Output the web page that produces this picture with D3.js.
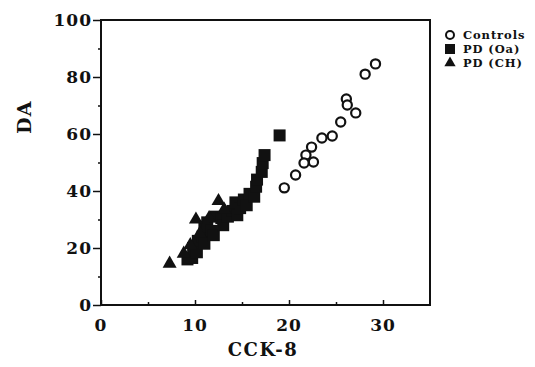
<!DOCTYPE html>
<html>
<head>
<meta charset="utf-8">
<script src="https://cdn.jsdelivr.net/npm/d3@7"></script>
<style>
  body { margin: 0; background: #fff; }
  text { font-family: 'DejaVu Serif', 'Liberation Serif', serif; font-weight: bold; fill: #111; }
</style>
</head>
<body>
<div id="main"></div>
<script>
// data: [CCK-8, DA]
const controls = [
  [29.2, 84.6], [28.1, 81.0], [26.1, 72.3], [26.2, 70.2], [27.1, 67.4],
  [25.5, 64.2], [24.6, 59.3], [23.5, 58.6], [22.4, 55.4], [21.8, 52.6],
  [22.6, 50.2], [21.6, 49.8], [20.7, 45.6], [19.5, 41.1]
];
const pdOa = [
  [9.2, 16.0], [9.7, 16.5], [9.8, 20.0], [10.2, 18.5], [10.3, 22.5],
  [10.8, 24.0], [11.0, 21.5], [11.0, 27.5], [11.3, 29.0], [11.8, 26.0],
  [12.0, 24.5], [12.2, 31.0], [12.8, 30.5], [13.0, 28.0], [13.5, 31.0],
  [14.0, 33.0], [14.3, 36.0], [14.5, 31.5], [14.8, 34.0], [15.2, 37.0],
  [15.5, 35.0], [15.8, 39.0], [16.3, 38.0], [16.5, 41.5], [16.6, 44.0],
  [17.1, 46.7], [17.2, 49.8], [17.4, 52.6], [19.0, 59.5]
];
const pdCh = [
  [7.3, 14.5], [8.8, 18.0], [9.5, 21.0], [10.1, 30.0], [10.5, 25.0],
  [11.5, 30.5], [12.5, 36.5], [13.1, 33.5]
];
const xTicks = [0, 10, 20, 30];
const xMinor = [5, 15, 25];
const yTicks = [0, 20, 40, 60, 80, 100];
const yMinor = [10, 30, 50, 70, 90];
const legendItems = ['Controls', 'PD (Oa)', 'PD (CH)'];

const svgWidth = 535;
const svgHeight = 367;
const plot = { l: 101, r: 430, t: 20, b: 305 };

const svg = d3.select('#main').append('svg')
  .attr('width', svgWidth)
  .attr('height', svgHeight);

const x = d3.scaleLinear().domain([0, 35]).range([plot.l, plot.r]);
const y = d3.scaleLinear().domain([0, 100]).range([plot.b, plot.t]);

// frame
svg.append('rect')
  .attr('x', plot.l).attr('y', plot.t)
  .attr('width', plot.r - plot.l).attr('height', plot.b - plot.t)
  .attr('fill', 'none').attr('stroke', '#111').attr('stroke-width', 2);

// y axis
const yAxis = svg.append('g').attr('transform', `translate(${plot.l},0)`)
  .call(d3.axisLeft(y).tickValues(yTicks).tickSize(8).tickPadding(1));
yAxis.select('.domain').remove();
yAxis.selectAll('.tick line').attr('stroke', '#111').attr('stroke-width', 1.5);
yAxis.selectAll('.tick text').style('font-size', '17px').attr('fill', '#111')
  .attr('letter-spacing', 1).attr('dy', '0.35em');
svg.append('g').attr('transform', `translate(${plot.l},0)`)
  .call(d3.axisLeft(y).tickValues(yMinor).tickSize(3).tickFormat(''))
  .call(g => g.select('.domain').remove())
  .selectAll('line').attr('stroke', '#111').attr('stroke-width', 1.5);

// x axis
const xAxis = svg.append('g').attr('transform', `translate(0,${plot.b})`)
  .call(d3.axisTop(x).tickValues(xTicks).tickSize(5).tickFormat(''));
xAxis.select('.domain').remove();
xAxis.selectAll('line').attr('stroke', '#111').attr('stroke-width', 1.5);
svg.append('g').attr('transform', `translate(0,${plot.b})`)
  .call(d3.axisTop(x).tickValues(xMinor).tickSize(3).tickFormat(''))
  .call(g => g.select('.domain').remove())
  .selectAll('line').attr('stroke', '#111').attr('stroke-width', 1.5);
svg.selectAll('.xlab').data(xTicks).enter().append('text')
  .attr('class', 'xlab')
  .attr('x', d => x(d)).attr('y', 331)
  .attr('text-anchor', 'middle')
  .attr('letter-spacing', 1)
  .style('font-size', '17px')
  .text(d => d);

// axis titles
svg.append('text').attr('x', 263).attr('y', 356)
  .attr('text-anchor', 'middle').style('font-size', '18px')
  .attr('letter-spacing', 1.5).text('CCK-8');
svg.append('text').attr('transform', 'translate(31,117) rotate(-90)')
  .attr('text-anchor', 'middle').style('font-size', '19px')
  .attr('letter-spacing', 1.5).text('DA');

// markers
const tri = d3.symbol().type(d3.symbolTriangle).size(85);

svg.selectAll('.ctrl').data(controls).enter().append('circle')
  .attr('class', 'ctrl')
  .attr('cx', d => x(d[0])).attr('cy', d => y(d[1])).attr('r', 4.6)
  .attr('fill', '#fff').attr('stroke', '#111').attr('stroke-width', 2.2);

svg.selectAll('.oa').data(pdOa).enter().append('rect')
  .attr('class', 'oa')
  .attr('x', d => x(d[0]) - 6).attr('y', d => y(d[1]) - 6)
  .attr('width', 12).attr('height', 12).attr('fill', '#111');

svg.selectAll('.ch').data(pdCh).enter().append('path')
  .attr('class', 'ch')
  .attr('transform', d => `translate(${x(d[0])},${y(d[1])})`)
  .attr('d', tri).attr('fill', '#111');

// legend
const legend = svg.append('g').attr('transform', 'translate(450,35)');
legendItems.forEach((name, i) => {
  const g = legend.append('g').attr('transform', `translate(0,${i * 14})`);
  if (i === 0) {
    g.append('circle').attr('r', 4).attr('fill', '#fff')
      .attr('stroke', '#111').attr('stroke-width', 2);
  } else if (i === 1) {
    g.append('rect').attr('x', -5).attr('y', -5).attr('width', 10).attr('height', 10).attr('fill', '#111');
  } else {
    g.append('path').attr('d', d3.symbol().type(d3.symbolTriangle).size(55)).attr('fill', '#111');
  }
  g.append('text').attr('x', 13).attr('y', 4)
    .style('font-size', '11.5px').attr('letter-spacing', 0.9).text(name);
});
</script>
</body>
</html>
